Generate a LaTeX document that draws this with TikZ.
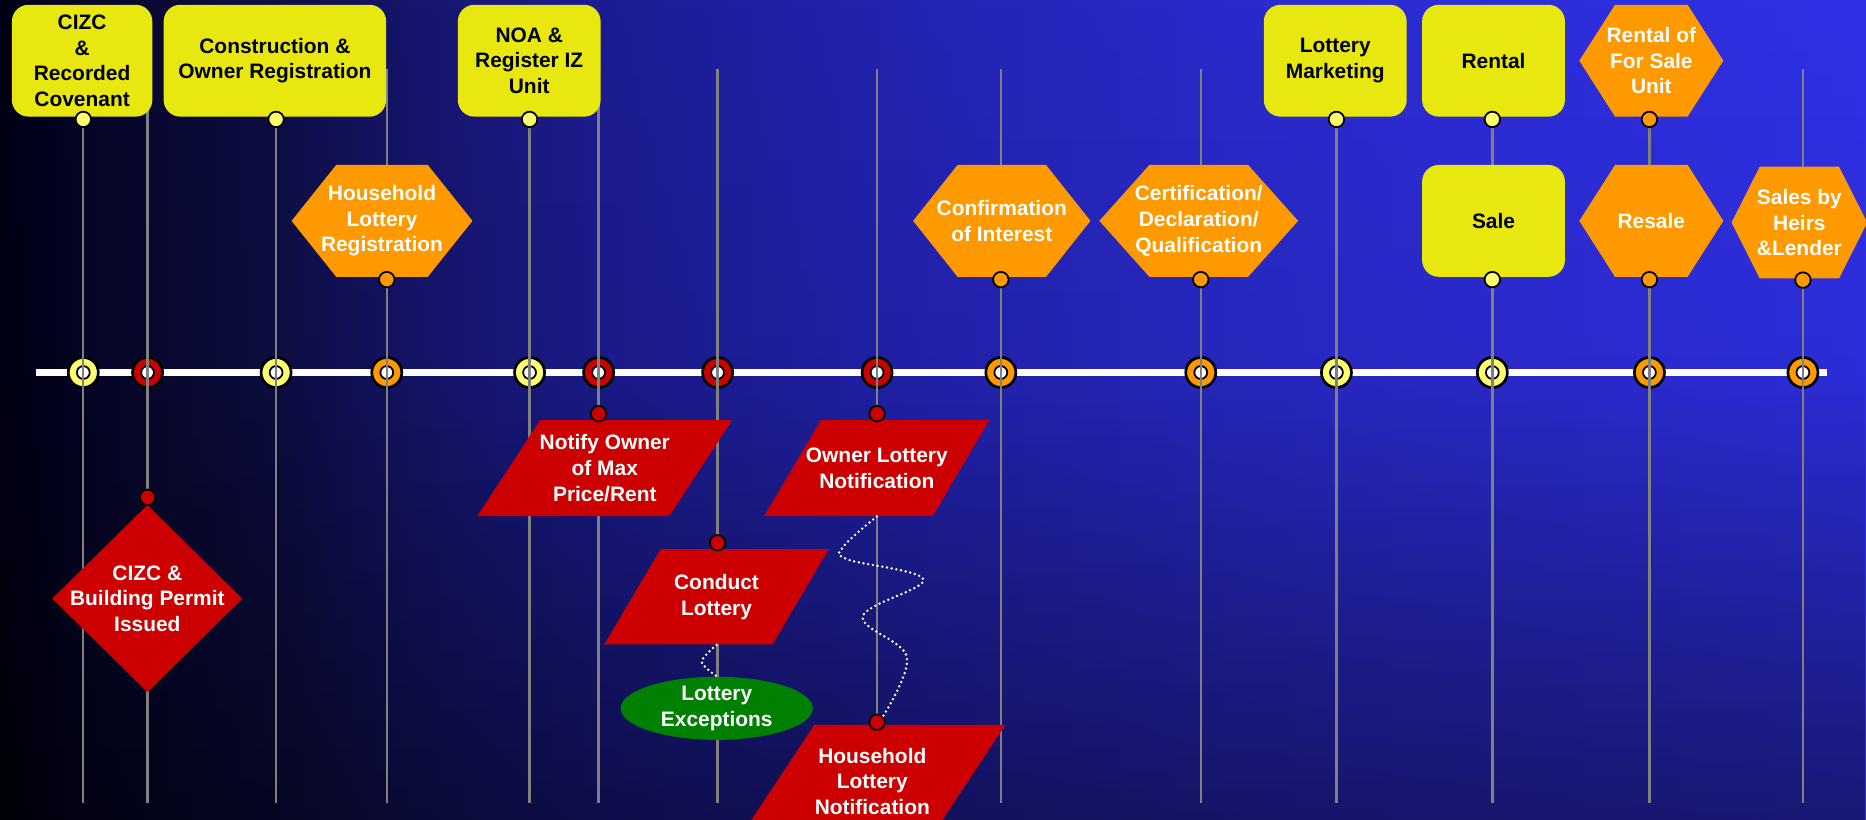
\documentclass[tikz,border=0pt]{standalone}
\usepackage{fontspec}
\setmainfont{Liberation Sans}
\usetikzlibrary{shapes.geometric, shapes.symbols, calc, fadings}

\definecolor{boxyel}{RGB}{232,232,16}
\definecolor{hexorange}{RGB}{255,153,0}
\definecolor{flowred}{RGB}{204,0,0}
\definecolor{excgreen}{RGB}{0,128,0}
\definecolor{knobyel}{RGB}{255,255,110}
\definecolor{stemgray}{RGB}{128,128,128}

\pgfdeclarehorizontalshading{bgsweep}{100bp}{rgb(0bp)=(0,0,0.08); rgb(25bp)=(0,0,0.08); rgb(27.4bp)=(0.024,0.024,0.16); rgb(32.3bp)=(0.055,0.055,0.27); rgb(36.2bp)=(0.086,0.086,0.43); rgb(41.1bp)=(0.11,0.11,0.57); rgb(50bp)=(0.14,0.14,0.71); rgb(58.5bp)=(0.165,0.165,0.8); rgb(75bp)=(0.19,0.19,0.91); rgb(100bp)=(0.19,0.19,0.91)}

\tikzset{
    txt/.style={font=\bfseries\fontsize{10}{12.3}\selectfont, align=center},
    ybox/.style={txt, fill=boxyel, rounded corners=2.8mm, minimum width=24mm, minimum height=18.8mm, inner sep=0pt},
    hexa/.style={signal, signal to=east and west, fill=hexorange, minimum height=18.8mm, inner sep=0pt},
    slant/.style={trapezium, fill=flowred, inner sep=0pt, text height=8.06mm, text depth=8.06mm, text width=18.8mm},
    wlabel/.style={label={[txt, text=white]center:#1}},
    ring/.style={circle, draw=black, line width=0.45mm, minimum size=5.05mm, inner sep=0pt},
    hole/.style={circle, draw=black, fill=white, line width=0.3mm, minimum size=2.16mm, inner sep=0pt},
    knob/.style={circle, draw=black, line width=0.3mm, minimum size=2.6mm, inner sep=0pt},
    stem/.style={draw=stemgray, line width=0.4mm},
    squiggle/.style={draw=white, line width=0.45mm, line cap=round, dash pattern=on 0pt off 0.8mm},
}

\begin{document}
\begin{tikzpicture}[x=0.2mm, y=-0.2mm]
        \useasboundingbox (0, 0) rectangle (1568, 689);
        \clip (0, 0) rectangle (1568, 689);
        \shade[shading=bgsweep] (0, 0) rectangle (1568, 689);
        \fill[black, opacity=0.15, path fading=north] (0, 0) rectangle (1568, 689);
        \fill[black, opacity=0.4, path fading=north] (0, 313) rectangle (1568, 689);

        \coordinate (top) at (0, 58);
        \coordinate (bot) at (0, 675);
        \coordinate (tl0) at (30, 313);
        \coordinate (tl1) at (1535, 313);
        \draw[white, line width=1.3mm] (tl0) -- (tl1);

        \foreach \x/\c [count=\i] in {70/knobyel, 124/flowred, 232/knobyel, 325/hexorange, 445/knobyel, 503/flowred, 603/flowred, 737/flowred, 841/hexorange, 1009/hexorange, 1123/knobyel, 1254/knobyel, 1386/hexorange, 1515/hexorange} {
            \node[ring, fill=\c] at (\x, 313) (m\i) {};
            \node[hole] at (m\i) (h\i) {};
            \draw[stem] (m\i |- top) -- (m\i |- bot);
        }

        \node[ybox, minimum width=23.6mm] at (69, 51) (cizc) {CIZC\\\&\\Recorded\\Covenant};
        \node[ybox, minimum width=37.4mm] at (231, 51) (constr) {Construction \&\\Owner Registration};
        \node[ybox] at (444.7, 51) (noa) {NOA \&\\Register IZ\\Unit};
        \node[ybox] at (1122, 51) (lotmkt) {Lottery\\Marketing};
        \node[ybox] at (1255, 51) (rental) {Rental};
        \node[ybox] at (1255, 185.6) (sale) {Sale};

        \node[hexa, minimum width=30.4mm, signal pointer angle=102.8, wlabel={Household\\Lottery\\Registration}] at (321, 185.6) (hhreg) {};
        \node[hexa, minimum width=29.8mm, signal pointer angle=103.1, wlabel={Confirmation\\of Interest}] at (841.8, 185.6) (confirm) {};
        \node[hexa, minimum width=33.4mm, signal pointer angle=96.4, wlabel={Certification/\\Declaration/\\Qualification}] at (1007.3, 185.6) (certif) {};
        \node[hexa, minimum width=24.2mm, signal pointer angle=114.9, wlabel={Rental of\\For Sale\\Unit}] at (1387.6, 51) (rentfs) {};
        \node[hexa, minimum width=24.2mm, signal pointer angle=114.9, wlabel={Resale}] at (1387.6, 185.6) (resale) {};
        \node[hexa, minimum width=22.8mm, signal pointer angle=126.5, wlabel={Sales by\\Heirs\\\&Lender}] at (1512, 187) (heirs) {};

        \node[diamond, fill=flowred, minimum width=32mm, minimum height=31.5mm, inner sep=0pt, wlabel={CIZC \&\\Building Permit\\Issued}] at (123.8, 503) (cizcbp) {};
        \node[slant, text width=21.72mm, trapezium left angle=56.8, trapezium right angle=123.2, wlabel={Notify Owner\\of Max\\Price/Rent}] at (508.2, 393.3) (notify) {};
        \node[slant, text height=8.01mm, text depth=8.01mm, trapezium left angle=59.4, trapezium right angle=120.6, wlabel={Conduct\\Lottery}] at (602.1, 501.5) (conduct) {};
        \node[slant, trapezium left angle=59.4, trapezium right angle=120.6, wlabel={Owner Lottery\\Notification}] at (736.8, 393.3) (ownnote) {};
        \node[slant, text width=19.52mm, text height=9.5mm, text depth=9.5mm, trapezium left angle=56.5, trapezium right angle=123.5, wlabel={Household\\Lottery\\Notification}] at (733, 656.7) (hhnote) {};
        \node[ellipse, txt, text=white, fill=excgreen, minimum width=32.3mm, minimum height=10.6mm, inner sep=0pt] at (602.3, 595.2) (exc) {Lottery\\Exceptions};

        \node[knob, fill=knobyel] at ($(m1 |- cizc.south)+(0, 2)$) (k1) {};
        \node[knob, fill=flowred] at ($(m2 |- cizcbp.north)+(0, -6)$) (k2) {};
        \node[knob, fill=knobyel] at ($(m3 |- constr.south)+(0, 2)$) (k3) {};
        \node[knob, fill=hexorange] at ($(m4 |- hhreg.south)+(0, 2)$) (k4) {};
        \node[knob, fill=knobyel] at ($(m5 |- noa.south)+(0, 2)$) (k5) {};
        \node[knob, fill=flowred] at ($(m6 |- notify.north)+(0, -5)$) (k6) {};
        \node[knob, fill=flowred] at ($(m7 |- conduct.north)+(0, -5)$) (k7) {};
        \node[knob, fill=flowred] at ($(m8 |- ownnote.north)+(0, -5)$) (k8) {};
        \node[knob, fill=flowred] at ($(m8 |- hhnote.north)+(0, -2)$) (k9) {};
        \node[knob, fill=hexorange] at ($(m9 |- confirm.south)+(0, 2)$) (k10) {};
        \node[knob, fill=hexorange] at ($(m10 |- certif.south)+(0, 2)$) (k11) {};
        \node[knob, fill=knobyel] at ($(m11 |- lotmkt.south)+(0, 2)$) (k12) {};
        \node[knob, fill=knobyel] at ($(m12 |- rental.south)+(0, 2)$) (k13) {};
        \node[knob, fill=knobyel] at ($(m12 |- sale.south)+(0, 2)$) (k14) {};
        \node[knob, fill=hexorange] at ($(m13 |- rentfs.south)+(0, 2)$) (k15) {};
        \node[knob, fill=hexorange] at ($(m13 |- resale.south)+(0, 2)$) (k16) {};
        \node[knob, fill=hexorange] at ($(m14 |- heirs.south)+(0, 1)$) (k17) {};

        \draw[squiggle] plot[smooth, tension=0.6] coordinates {(ownnote.south) (709, 459) (712, 470) (776, 487) (725, 518) (762, 552) (k9.north east)};
        \draw[squiggle] plot[smooth] coordinates {(conduct.south) (589.6, 556) (exc.north)};
    \end{tikzpicture}
\end{document}
